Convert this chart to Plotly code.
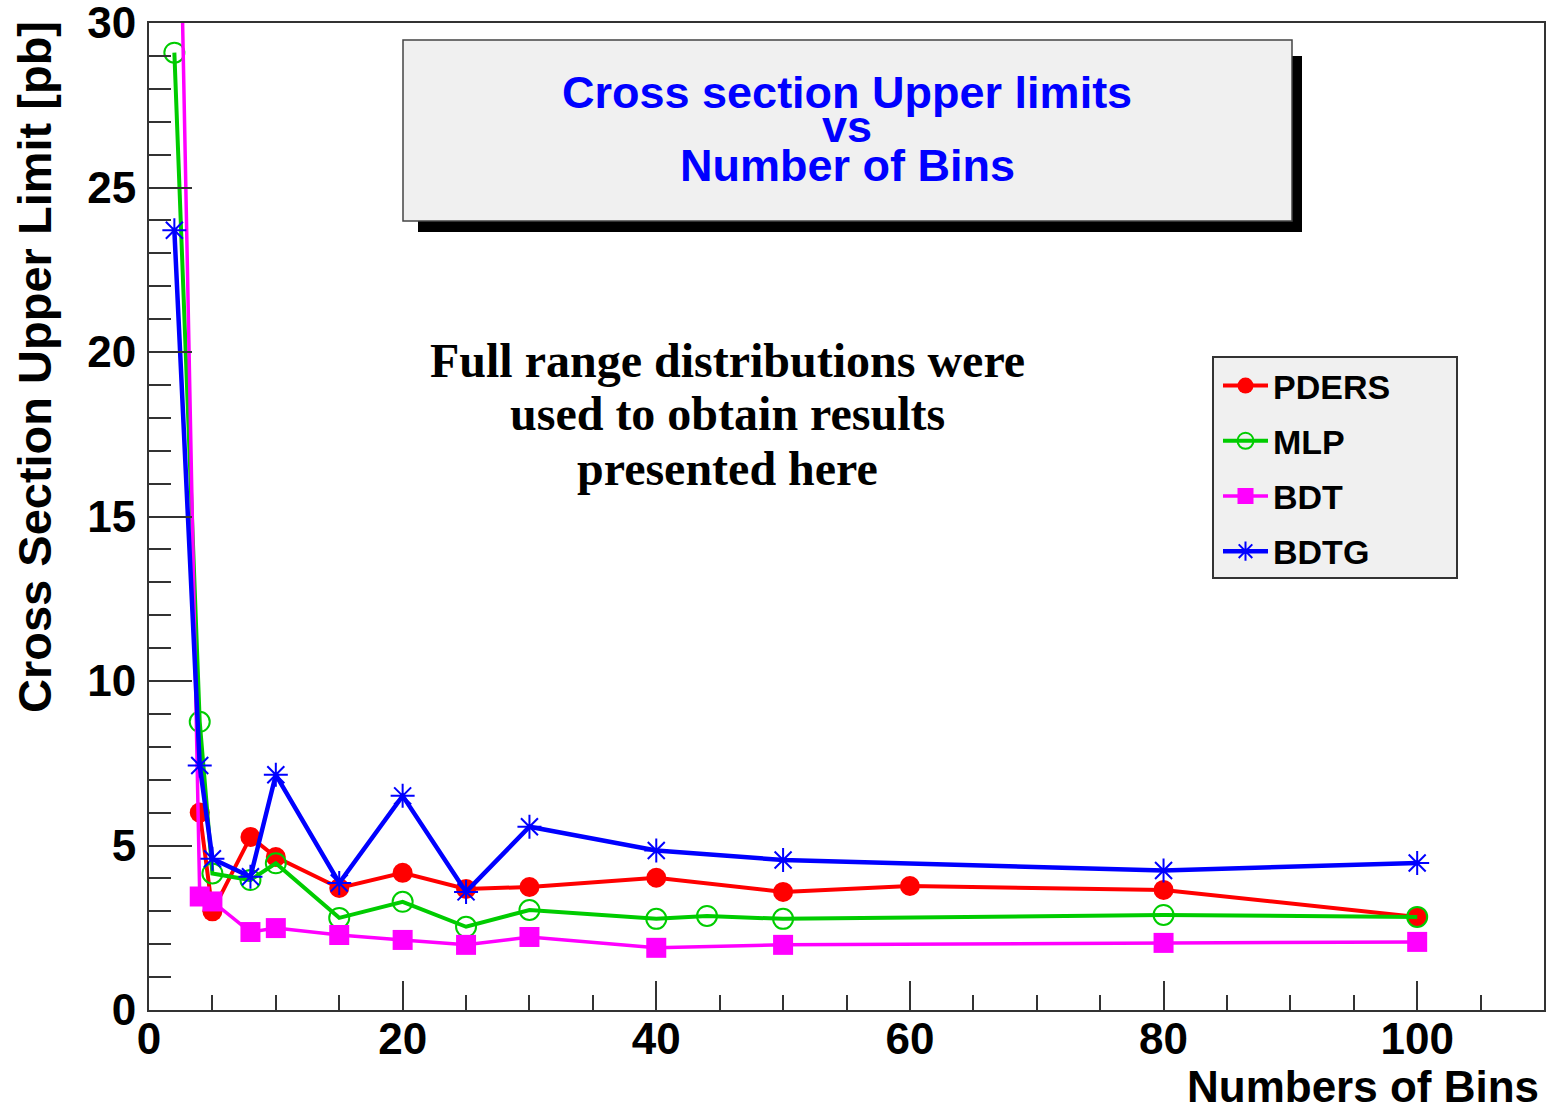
import plotly.graph_objects as go

# ---- data -------------------------------------------------------------
pders_x = [4, 5, 8, 10, 15, 20, 25, 30, 40, 50, 60, 80, 100]
pders_y = [6.0, 3.0, 5.26, 4.65, 3.71, 4.17, 3.68, 3.74, 4.02, 3.59, 3.77, 3.65, 2.83]

mlp_x = [2, 4, 5, 8, 10, 15, 20, 25, 30, 40, 44, 50, 80, 100]
mlp_y = [29.1, 8.76, 4.15, 3.95, 4.46, 2.8, 3.29, 2.53, 3.04, 2.77, 2.86, 2.77, 2.89, 2.83]

bdt_x = [2, 4, 5, 8, 10, 15, 20, 25, 30, 40, 50, 80, 100]
bdt_y = [42.8, 3.45, 3.3, 2.37, 2.49, 2.28, 2.13, 1.98, 2.22, 1.89, 1.98, 2.04, 2.07]

bdtg_x = [2, 4, 5, 8, 10, 15, 20, 25, 30, 40, 50, 80, 100]
bdtg_y = [23.7, 7.43, 4.6, 4.05, 7.15, 3.86, 6.51, 3.59, 5.57, 4.85, 4.56, 4.24, 4.47]

x_range = [0, 110]
y_range = [0, 30.002]
y_tickvals = [0, 5, 10, 15, 20, 25, 30]

title_lines = ["Cross section Upper limits", "vs", "Number of Bins"]
note_lines = ["Full range distributions were", "used to obtain results", "presented here"]
y_title = "Cross Section Upper Limit [pb]"
x_title = "Numbers of Bins"

# ---- page geometry (pixels) --------------------------------------------
FIG_W, FIG_H = 1549, 1109
M_L, M_R, M_T, M_B = 149, 5, 23, 99
PLOT_W = FIG_W - M_L - M_R
PLOT_H = FIG_H - M_T - M_B


def px(x_pix):
    return (x_pix - M_L) / PLOT_W


def py(y_pix):
    return (FIG_H - M_B - y_pix) / PLOT_H


SANS = "Liberation Sans, Arial, sans-serif"
SERIF = "Liberation Serif, Times New Roman, serif"

fig = go.Figure()

series = [
    ("PDERS", pders_x, pders_y, "#ff0000", 4, dict(symbol="circle", size=20, color="#ff0000")),
    ("MLP", mlp_x, mlp_y, "#00cc00", 4,
     dict(symbol="circle-open", size=20, color="#00cc00", line=dict(width=2, color="#00cc00"))),
    ("BDT", bdt_x, bdt_y, "#ff00ff", 3.5, dict(symbol="square", size=20, color="#ff00ff")),
    ("BDTG", bdtg_x, bdtg_y, "#0000ff", 4.5,
     dict(symbol="asterisk-open", size=20, color="#0000ff", line=dict(width=2, color="#0000ff"))),
]

for name, xs, ys, col, lw, mk in series:
    fig.add_trace(go.Scatter(
        x=xs, y=ys, name=name, mode="lines+markers",
        line=dict(color=col, width=lw), marker=mk,
        legendgroup=name, cliponaxis=True,
    ))

axis_common = dict(
    showgrid=False, zeroline=False, showline=True, mirror=True,
    linecolor="#333333", linewidth=2,
    ticks="inside", tickcolor="#333333", tickwidth=2,
    ticklabeloverflow="allow", automargin=False,
    tickfont=dict(family=SANS, size=44, color="black", weight="bold"),
)

fig.update_layout(
    width=FIG_W, height=FIG_H,
    margin=dict(l=M_L, r=M_R, t=M_T, b=M_B, pad=0, autoexpand=False),
    paper_bgcolor="white", plot_bgcolor="white",
    showlegend=True,
    legend=dict(
        x=px(1218), y=py(357), xanchor="left", yanchor="top",
        bgcolor="rgba(0,0,0,0)", borderwidth=0,
        font=dict(family=SANS, size=34, color="black", weight="bold"),
        tracegroupgap=8, itemwidth=45,
    ),
    xaxis=dict(range=x_range, dtick=20, tick0=0, ticklen=29,
               ticklabelstandoff=-11,
               minor=dict(dtick=5, ticklen=15, ticks="inside", tickcolor="#333333", tickwidth=2),
               **axis_common),
    yaxis=dict(range=y_range, tickmode="array", tickvals=y_tickvals, ticklen=43,
               ticklabelstandoff=2,
               minor=dict(tickmode="linear", tick0=0, dtick=1, ticklen=22, ticks="inside",
                          tickcolor="#333333", tickwidth=2),
               **axis_common),
)

shapes = [
    # title box shadow and box
    dict(type="rect", xref="paper", yref="paper", layer="above",
         x0=px(418), x1=px(1302), y0=py(232), y1=py(56),
         fillcolor="black", line=dict(width=0)),
    dict(type="rect", xref="paper", yref="paper", layer="above",
         x0=px(403), x1=px(1292), y0=py(221), y1=py(40),
         fillcolor="#f0f0f0", line=dict(color="#444444", width=1.5)),
    # legend frame
    dict(type="rect", xref="paper", yref="paper", layer="above",
         x0=px(1213), x1=px(1457), y0=py(578), y1=py(357),
         fillcolor="#f0f0f0", line=dict(color="#333333", width=2)),
]
fig.update_layout(shapes=shapes)

annotations = []
for text, yc in zip(title_lines, [93, 127, 166]):
    annotations.append(dict(
        text=text, xref="paper", yref="paper", x=px(847), y=py(yc),
        xanchor="center", yanchor="middle", showarrow=False,
        font=dict(family=SANS, size=45, color="#0000ff", weight="bold"),
    ))
for text, yc in zip(note_lines, [360, 414, 468]):
    annotations.append(dict(
        text=text, xref="paper", yref="paper", x=px(727), y=py(yc),
        xanchor="center", yanchor="middle", showarrow=False,
        font=dict(family=SERIF, size=48, color="black", weight="bold"),
    ))
annotations.append(dict(
    text=y_title, xref="paper", yref="paper", x=px(35), y=py(19),
    xanchor="center", yanchor="top", textangle=-90, showarrow=False,
    font=dict(family=SANS, size=47, color="black", weight="bold"),
))
annotations.append(dict(
    text=x_title, xref="paper", yref="paper", x=px(1541), y=py(1086),
    xanchor="right", yanchor="middle", showarrow=False,
    font=dict(family=SANS, size=44, color="black", weight="bold"),
))
fig.update_layout(annotations=annotations)

fig.write_html("out.html")
